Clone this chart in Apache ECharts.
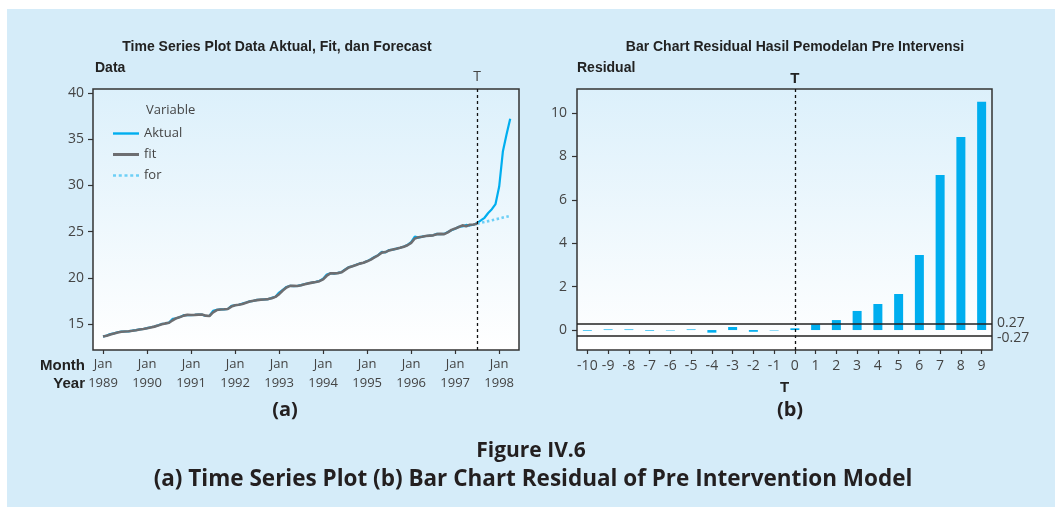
<!DOCTYPE html>
<html><head><meta charset="utf-8">
<script src="https://cdn.jsdelivr.net/npm/echarts@6/dist/echarts.min.js"></script>
<style>
html,body{margin:0;padding:0;background:#ffffff;}
#panel{position:absolute;left:7px;top:9px;width:1048px;height:498px;background:#D5ECF9;}
#c{position:absolute;left:0;top:0;width:1062px;height:513px;}
</style>
</head><body><div id="panel"></div><div id="c"></div>
<script>
// ---- data ----
const years = [1989,1990,1991,1992,1993,1994,1995,1996,1997,1998];
// monthly Aktual, Jan 1989 .. Apr 1998
const aktual = [
  13.63,13.75,13.90,13.98,14.10,14.17,14.18,14.20,14.27,14.33,14.42,14.45,
  14.55,14.64,14.72,14.85,15.00,15.05,15.15,15.55,15.62,15.75,15.95,15.97,
  15.96,15.98,16.02,16.00,15.86,15.88,16.42,16.52,16.58,16.58,16.62,16.95,
  17.02,17.08,17.20,17.32,17.45,17.50,17.60,17.62,17.66,17.68,17.82,17.95,
  18.40,18.70,19.00,19.13,19.10,19.12,19.20,19.32,19.40,19.48,19.55,19.65,
  19.90,20.35,20.49,20.45,20.52,20.60,20.90,21.15,21.25,21.40,21.55,21.62,
  21.80,22.00,22.25,22.45,22.80,22.75,23.00,23.05,23.15,23.25,23.38,23.55,
  23.85,24.45,24.35,24.45,24.52,24.55,24.60,24.75,24.72,24.75,24.95,25.15,
  25.30,25.52,25.55,25.72,25.65,25.74,25.92,26.20,26.49,27.01,27.42,27.98,
  29.87,33.66,35.50,37.22
];
// monthly fit, Jan 1989 .. Jul 1997 (T)
const fit = [
  13.65,13.72,13.86,13.97,14.07,14.16,14.19,14.21,14.26,14.32,14.40,14.46,
  14.53,14.62,14.71,14.82,14.96,15.06,15.13,15.40,15.62,15.74,15.90,15.98,
  15.97,15.98,16.01,16.01,15.90,15.86,16.25,16.50,16.57,16.59,16.62,16.88,
  17.03,17.07,17.17,17.30,17.43,17.51,17.58,17.63,17.65,17.69,17.78,17.93,
  18.22,18.62,18.95,19.12,19.12,19.11,19.18,19.30,19.39,19.47,19.54,19.63,
  19.82,20.22,20.47,20.47,20.50,20.59,20.85,21.12,21.25,21.38,21.53,21.62,
  21.78,21.97,22.21,22.43,22.72,22.78,22.96,23.05,23.14,23.24,23.36,23.52,
  23.78,24.25,24.38,24.43,24.51,24.56,24.59,24.72,24.75,24.72,24.92,25.18,
  25.32,25.49,25.67,25.58,25.73,25.76,25.84
];
// forecast, Jul 1997 (T) .. Apr 1998
const forecast = [25.84,25.94,26.03,26.13,26.22,26.32,26.41,26.51,26.60,26.70];
const forecastStart = 102; // month index of T (Jul 1997)
const leftTicks = [15,20,25,30,35,40];

const residualCats = ['-10','-9','-8','-7','-6','-5','-4','-3','-2','-1','0','1','2','3','4','5','6','7','8','9'];
const residuals = [-0.03,0.03,0.03,-0.03,-0.02,0.03,-0.12,0.14,-0.08,-0.02,0.08,0.26,0.46,0.88,1.2,1.66,3.46,7.15,8.9,10.52];
const limits = [0.27,-0.27];
const rightTicks = [0,2,4,6,8,10];

// ---- chart ----
const FT = "'Open Sans', 'Noto Sans', sans-serif";
const FN = "'Liberation Sans Narrow', 'Liberation Sans', sans-serif";
const lblColor = '#444';
const C_AKT = '#00AEEF', C_FIT = '#6D6E71', C_FOR = '#6DCFF6';
const chart = echarts.init(document.getElementById('c'), null, {renderer:'canvas'});
const grad = () => new echarts.graphic.LinearGradient(0,0,0,1,[{offset:0,color:'#DCF0FB'},{offset:1,color:'#FFFFFF'}]);
const yearTicks = years.map((y,i)=>i*12);

const option = {
  backgroundColor: 'transparent',
  animation: false,
  grid: [
    {left:93, top:89, width:426, height:261, show:true, backgroundColor:grad(), borderColor:'#333', borderWidth:1.5, containLabel:false},
    {left:577, top:89, width:415, height:261, show:true, backgroundColor:grad(), borderColor:'#333', borderWidth:1.5, containLabel:false}
  ],
  legend: {
    orient:'vertical', left:108, top:122,
    itemWidth:26, itemHeight:12, itemGap:8, symbolKeepAspect:true,
    textStyle:{fontFamily:FT, fontSize:13, color:lblColor},
    data:[
      {name:'Aktual', icon:'path://M0,0h26v2.4h-26z', itemStyle:{color:C_AKT, borderWidth:0}},
      {name:'fit', icon:'path://M0,0h26v3h-26z', itemStyle:{color:C_FIT, borderWidth:0}},
      {name:'for', icon:'path://M0,0h3v2.6h-3z M5.7,0h3v2.6h-3z M11.4,0h3v2.6h-3z M17.1,0h3v2.6h-3z M22.8,0h3v2.6h-3z', itemStyle:{color:C_FOR, borderWidth:0}}
    ]
  },
  xAxis: [
    {type:'value', gridIndex:0, min:-2.73, max:113.4,
     axisLine:{show:false, onZero:false},
     splitLine:{show:false},
     axisTick:{show:true, inside:false, customValues:yearTicks, length:4, lineStyle:{color:'#333', width:1.2}},
     axisLabel:{customValues:yearTicks, formatter:v=>'Jan\n'+years[Math.round(v/12)], fontFamily:FT, fontSize:13, color:lblColor, lineHeight:19, margin:5}
    },
    {type:'category', gridIndex:1, data:residualCats, boundaryGap:true,
     axisLine:{show:false, onZero:false},
     axisTick:{show:true, inside:false, alignWithLabel:true, length:4, lineStyle:{color:'#333', width:1.2}},
     axisLabel:{fontFamily:FT, fontSize:14, color:lblColor, margin:9, interval:0},
     name:'T', nameLocation:'middle', nameGap:30,
     nameTextStyle:{fontFamily:FN, fontWeight:'bold', fontSize:15, color:'#222'}
    }
  ],
  yAxis: [
    {type:'value', gridIndex:0, min:12.18, max:40.43,
     axisLine:{show:false, onZero:false}, splitLine:{show:false},
     axisTick:{show:true, inside:false, customValues:leftTicks, length:5, lineStyle:{color:'#333', width:1.2}},
     axisLabel:{customValues:leftTicks, fontFamily:FT, fontSize:14, color:lblColor, margin:9}
    },
    {type:'value', gridIndex:1, min:-0.92, max:11.11,
     axisLine:{show:false, onZero:false}, splitLine:{show:false},
     axisTick:{show:true, inside:false, customValues:rightTicks, length:5, lineStyle:{color:'#333', width:1.2}},
     axisLabel:{customValues:rightTicks, fontFamily:FT, fontSize:14, color:lblColor, margin:10}
    }
  ],
  series: [
    {name:'Aktual', type:'line', xAxisIndex:0, yAxisIndex:0, symbol:'none', z:2,
     data: aktual.map((v,i)=>[i,v]),
     lineStyle:{color:C_AKT, width:2.2}, itemStyle:{color:C_AKT},
     markLine:{silent:true, symbol:['none','none'], animation:false,
       lineStyle:{color:'#111', type:[3,3], width:1.3},
       label:{show:true, position:'end', formatter:'T', fontFamily:FT, fontSize:14, color:lblColor, distance:5},
       data:[{xAxis:forecastStart}]}
    },
    {name:'fit', type:'line', xAxisIndex:0, yAxisIndex:0, symbol:'none', z:3,
     data: fit.map((v,i)=>[i,v]),
     lineStyle:{color:C_FIT, width:2.6}, itemStyle:{color:C_FIT}
    },
    {name:'for', type:'line', xAxisIndex:0, yAxisIndex:0, symbol:'none', z:2,
     data: forecast.map((v,k)=>[forecastStart+k,v]),
     lineStyle:{color:C_FOR, width:2.6, type:[2.5,2.5]}, itemStyle:{color:C_FOR}
    },
    {name:'Residual', type:'bar', xAxisIndex:1, yAxisIndex:1, barWidth:9,
     data: residuals, itemStyle:{color:C_AKT},
     markLine:{silent:true, symbol:['none','none'], animation:false,
       data:[
         {xAxis:'0', lineStyle:{color:'#111', type:[3,3], width:1.3},
          label:{show:true, position:'end', formatter:'T', fontFamily:FN, fontWeight:'bold', fontSize:15, color:'#222', distance:3}},
         {yAxis:limits[0], lineStyle:{color:'#222', type:'solid', width:1.5},
          label:{show:true, position:'end', formatter:String(limits[0]), fontFamily:FT, fontSize:14, color:lblColor, distance:5, offset:[0,-1]}},
         {yAxis:limits[1], lineStyle:{color:'#222', type:'solid', width:1.5},
          label:{show:true, position:'end', formatter:String(limits[1]), fontFamily:FT, fontSize:14, color:lblColor, distance:5, offset:[0,2]}}
       ]}
    }
  ],
  graphic: [
    {type:'text', x:277, y:47, style:{text:'Time Series Plot Data Aktual, Fit, dan Forecast', fontFamily:FN, fontWeight:'bold', fontSize:14, fill:'#222', textAlign:'center', textVerticalAlign:'middle'}},
    {type:'text', x:95, y:68, style:{text:'Data', fontFamily:FN, fontWeight:'bold', fontSize:14, fill:'#222', textVerticalAlign:'middle'}},
    {type:'text', x:146, y:110, style:{text:'Variable', fontFamily:FT, fontSize:13, fill:lblColor, textVerticalAlign:'middle'}},
    {type:'text', x:85, y:366, style:{text:'Month', fontFamily:FN, fontWeight:'bold', fontSize:15, fill:'#222', textAlign:'right', textVerticalAlign:'middle'}},
    {type:'text', x:85, y:384, style:{text:'Year', fontFamily:FN, fontWeight:'bold', fontSize:15, fill:'#222', textAlign:'right', textVerticalAlign:'middle'}},
    {type:'text', x:795, y:47, style:{text:'Bar Chart Residual Hasil Pemodelan Pre Intervensi', fontFamily:FN, fontWeight:'bold', fontSize:14, fill:'#222', textAlign:'center', textVerticalAlign:'middle'}},
    {type:'text', x:577, y:68, style:{text:'Residual', fontFamily:FN, fontWeight:'bold', fontSize:14, fill:'#222', textVerticalAlign:'middle'}},
    {type:'text', x:285, y:410, style:{text:'(a)', fontFamily:FT, fontWeight:'bold', fontSize:20, fill:'#231F20', textAlign:'center', textVerticalAlign:'middle'}},
    {type:'text', x:790, y:410, style:{text:'(b)', fontFamily:FT, fontWeight:'bold', fontSize:20, fill:'#231F20', textAlign:'center', textVerticalAlign:'middle'}},
    {type:'text', x:531, y:451, style:{text:'Figure IV.6', fontFamily:FT, fontWeight:'bold', fontSize:21, fill:'#231F20', textAlign:'center', textVerticalAlign:'middle'}},
    {type:'text', x:533, y:480, style:{text:'(a) Time Series Plot (b) Bar Chart Residual of Pre Intervention Model', fontFamily:FT, fontWeight:'bold', fontSize:22.5, fill:'#231F20', textAlign:'center', textVerticalAlign:'middle'}}
  ]
};
chart.setOption(option);
</script>
</body></html>
